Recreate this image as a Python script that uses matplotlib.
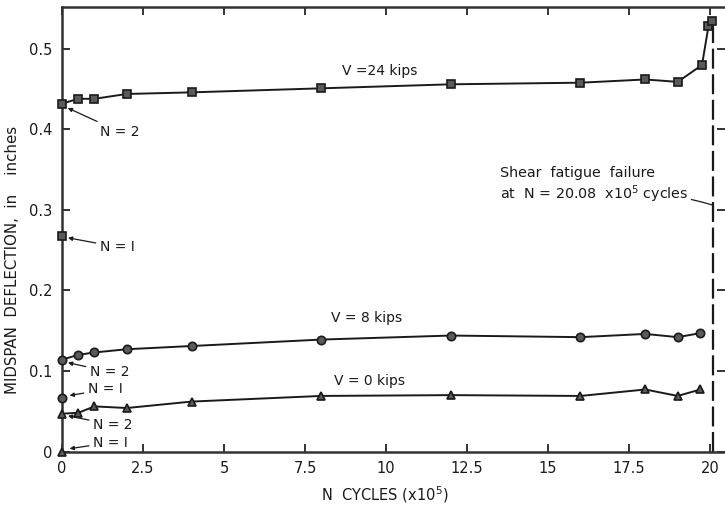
import matplotlib
matplotlib.use("Agg")
import matplotlib.pyplot as plt

# ---- data (N cycles x10^5, midspan deflection in inches) ----
v24_x = [0, 0.5, 1, 2, 4, 8, 12, 16, 18, 19, 19.75, 19.95, 20.05]
v24_y = [0.432, 0.438, 0.438, 0.444, 0.446, 0.451, 0.456, 0.458, 0.462, 0.459, 0.480, 0.528, 0.535]
v24_n1 = 0.268

v8_x = [0, 0.5, 1, 2, 4, 8, 12, 16, 18, 19, 19.7]
v8_y = [0.114, 0.120, 0.123, 0.127, 0.131, 0.139, 0.144, 0.142, 0.146, 0.142, 0.147]
v8_n1 = 0.067

v0_x = [0, 0.5, 1, 2, 4, 8, 12, 16, 18, 19, 19.7]
v0_y = [0.047, 0.048, 0.056, 0.054, 0.062, 0.069, 0.070, 0.069, 0.077, 0.069, 0.077]
v0_n1 = 0.0

failure_n = 20.08

xticks = [0, 2.5, 5, 7.5, 10, 12.5, 15, 17.5, 20]
xtick_labels = ["0", "2.5", "5", "7.5", "10", "12.5", "15", "17.5", "20"]
yticks = [0, 0.1, 0.2, 0.3, 0.4, 0.5]
ytick_labels = ["0", "0.1", "0.2", "0.3", "0.4", "0.5"]

plt.rcParams['font.family'] = ['DejaVu Sans']
ink = '#1a1a1a'

fig = plt.figure(figsize=(7.25, 5.11), dpi=100)
ax = fig.add_axes([62/725, (511-451.5)/511, (725-62)/725, (451.5-7)/511])
ax.set_xlim(0, 20.46)
ax.set_ylim(0, 0.552)

mk = dict(color=ink, mec=ink, mfc='#5a5a5a', mew=1.2, clip_on=False, zorder=3)
ax.plot(v24_x, v24_y, marker='s', ms=5.5, lw=1.4, **mk)
ax.plot([0], [v24_n1], marker='s', ms=5.5, ls='none', **mk)
ax.plot(v8_x, v8_y, marker='o', ms=6, lw=1.4, **mk)
ax.plot([0], [v8_n1], marker='o', ms=6, ls='none', **mk)
ax.plot(v0_x, v0_y, marker='^', ms=6, lw=1.4, **mk)
ax.plot([0], [v0_n1], marker='^', ms=6, ls='none', **mk)

# failure line
ax.plot([failure_n, failure_n], [0, 0.53], color=ink, lw=1.6, ls=(0, (9, 2.5)), zorder=2)

# spines / ticks
for s in ['left', 'bottom', 'top']:
    ax.spines[s].set_linewidth(1.8)
    ax.spines[s].set_color('#333333')
ax.spines['right'].set_visible(False)
ax.set_xticks(xticks)
ax.set_xticklabels(xtick_labels)
ax.set_yticks(yticks)
ax.set_yticklabels(ytick_labels)
ax.tick_params(direction='in', length=6, width=1.4, colors='#333333', labelcolor=ink,
               labelsize=10.5, top=True, right=True, pad=7)

ax.set_xlabel("N  CYCLES (x10$^{5}$)", fontsize=10.5, color=ink)
ax.xaxis.set_label_coords(0.487, -0.074)
ax.set_ylabel("MIDSPAN  DEFLECTION,  in    inches", fontsize=10.8, color=ink)
ax.yaxis.set_label_coords(-0.064, 0.43)

# series labels
ax.text(9.8, 0.472, "V =24 kips", fontsize=10, color=ink, ha='center', va='center')
ax.text(9.4, 0.166, "V = 8 kips", fontsize=10, color=ink, ha='center', va='center')
ax.text(9.5, 0.088, "V = 0 kips", fontsize=10, color=ink, ha='center', va='center')

# N annotations
ap = dict(arrowstyle='-|>', color=ink, lw=0.9, mutation_scale=6, shrinkA=1, shrinkB=2)
ann = [
    ("N = 2", (0.1, 0.428), (1.17, 0.397)),
    ("N = I", (0.1, 0.266), (1.17, 0.254)),
    ("N = 2", (0.1, 0.111), (0.86, 0.099)),
    ("N = I", (0.15, 0.069), (0.80, 0.077)),
    ("N = 2", (0.1, 0.045), (0.96, 0.033)),
    ("N = I", (0.15, 0.003), (0.96, 0.011)),
]
for txt, xy, xyt in ann:
    ax.annotate(txt, xy=xy, xytext=xyt, fontsize=10, color=ink, va='center', ha='left',
                arrowprops=ap, annotation_clip=False)

# failure text
ax.text(13.52, 0.346, "Shear  fatigue  failure", fontsize=10.3, color=ink, va='center', ha='left')
ax.annotate("at  N = 20.08  x10$^{5}$ cycles", xy=(failure_n, 0.306), xytext=(13.52, 0.320),
            fontsize=10.3, color=ink, va='center', ha='left',
            arrowprops=dict(arrowstyle='-', color=ink, lw=0.9, shrinkA=0, shrinkB=0,
                            connectionstyle='arc3,rad=-0.1'))

fig.savefig("out.png", dpi=100)
